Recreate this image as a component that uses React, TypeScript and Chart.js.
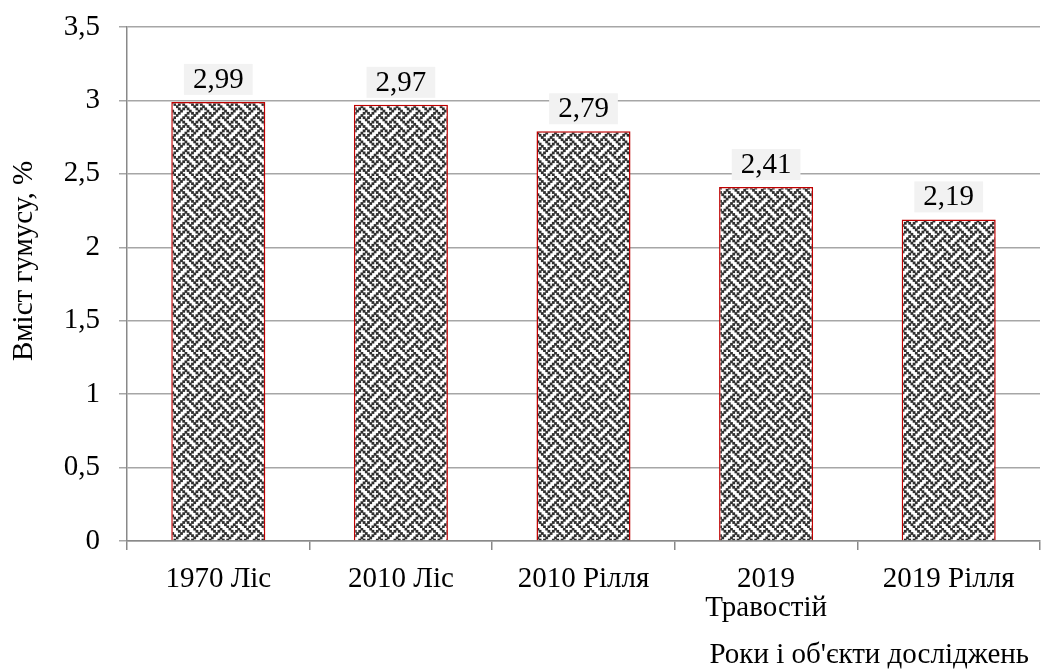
import React, { useEffect, useRef } from "react";
import { Chart, registerables } from "chart.js";

Chart.register(...registerables);

const categories: (string | string[])[] = ["1970 Ліс", "2010 Ліс", "2010 Рілля", ["2019", "Травостій"], "2019 Рілля"];
const values: number[] = [2.99, 2.97, 2.79, 2.41, 2.19];
const yTicks: number[] = [0, 0.5, 1, 1.5, 2, 2.5, 3, 3.5];
const xTitle = "Роки і об'єкти досліджень";
const yTitle = "Вміст гумусу, %";

const FONT = "'Liberation Serif', 'Times New Roman', serif";
const FS = 29;

function makePattern(): CanvasPattern | string {
  const bits = [0x88, 0x54, 0x22, 0x45, 0x88, 0x15, 0x22, 0x51];
  const s = 2.2;
  const size = 17.6;
  const c = document.createElement("canvas");
  c.width = 176;
  c.height = 176;
  const ctx = c.getContext("2d");
  if (!ctx) return "#888";
  ctx.fillStyle = "#ffffff";
  ctx.fillRect(0, 0, 176, 176);
  ctx.fillStyle = "#2e2e2e";
  for (let ty = 0; ty < 10; ty++) {
    for (let tx = 0; tx < 10; tx++) {
      for (let r = 0; r < 8; r++) {
        for (let col = 0; col < 8; col++) {
          if (bits[r] & (0x80 >> col)) {
            ctx.fillRect(tx * size + col * s - 0.3, ty * size + r * s - 0.3, s + 0.6, s + 0.6);
          }
        }
      }
    }
  }
  return ctx.createPattern(c, "repeat") || "#888";
}

const fmt = (v: number) => String(v).replace(".", ",");

const labelPlugin = {
  id: "valueLabels",
  afterDatasetsDraw(chart: any) {
    const ctx = chart.ctx;
    const meta = chart.getDatasetMeta(0);
    ctx.save();
    ctx.font = `${FS}px ${FONT}`;
    ctx.textAlign = "center";
    ctx.textBaseline = "middle";
    meta.data.forEach((bar: any, i: number) => {
      const text = fmt(values[i]);
      const w = ctx.measureText(text).width + 18;
      const h = 31;
      const cx = bar.x;
      const bottom = bar.y - 7;
      ctx.fillStyle = "#f2f2f2";
      ctx.fillRect(cx - w / 2, bottom - h, w, h);
      ctx.fillStyle = "#000000";
      ctx.fillText(text, cx, bottom - h / 2 + 1);
    });
    // x axis title, right aligned
    ctx.textAlign = "right";
    ctx.textBaseline = "middle";
    ctx.fillText(xTitle, 1029, 655);
    // y axis title, rotated
    ctx.translate(24, 261);
    ctx.rotate(-Math.PI / 2);
    ctx.textAlign = "center";
    ctx.fillText(yTitle, 0, 0);
    ctx.restore();
  },
};

export default function App() {
  const ref = useRef<HTMLCanvasElement | null>(null);
  useEffect(() => {
    if (!ref.current) return;
    const pattern = makePattern();
    const chart = new Chart(ref.current, {
      type: "bar",
      data: {
        labels: categories,
        datasets: [
          {
            data: values,
            backgroundColor: pattern as any,
            borderColor: "#c00000",
            borderWidth: 1.5,
            categoryPercentage: 1,
            barPercentage: 0.515,
          },
        ],
      },
      options: {
        responsive: false,
        animation: false,
        events: [],
        layout: { padding: { top: 27, right: 17, left: 0, bottom: 0 } },
        plugins: {
          legend: { display: false },
          tooltip: { enabled: false },
        },
        scales: {
          x: {
            afterFit: (axis: any) => {
              axis.height = 130;
              axis.paddingLeft = 0;
              axis.paddingRight = 0;
            },
            grid: {
              offset: true,
              drawOnChartArea: false,
              tickLength: 9,
              color: "#898989",
              lineWidth: 1.5,
            },
            border: { color: "#898989", width: 1.5 },
            ticks: {
              color: "#000",
              font: { family: FONT, size: FS, lineHeight: 1.0 },
              padding: 15,
              maxRotation: 0,
              autoSkip: false,
            },
          },
          y: {
            min: 0,
            max: 3.5,
            afterFit: (axis: any) => {
              axis.width = 127;
              axis.paddingTop = 0;
              axis.paddingBottom = 0;
            },
            afterBuildTicks: (axis: any) => {
              axis.ticks = yTicks.map((v) => ({ value: v }));
            },
            grid: {
              color: "#a6a6a6",
              lineWidth: 1.5,
              tickLength: 8,
            },
            border: { color: "#898989", width: 1.5 },
            ticks: {
              color: "#000",
              font: { family: FONT, size: FS },
              padding: 19,
              callback: (v: any) => fmt(Number(v)),
            },
          },
        },
      },
      plugins: [labelPlugin],
    });
    return () => chart.destroy();
  }, []);
  return (
    <div style={{ position: "absolute", left: 0, top: 0, width: 1057, height: 671, background: "#fff" }}>
      <canvas ref={ref} width={1057} height={671} style={{ display: "block" }} />
    </div>
  );
}
